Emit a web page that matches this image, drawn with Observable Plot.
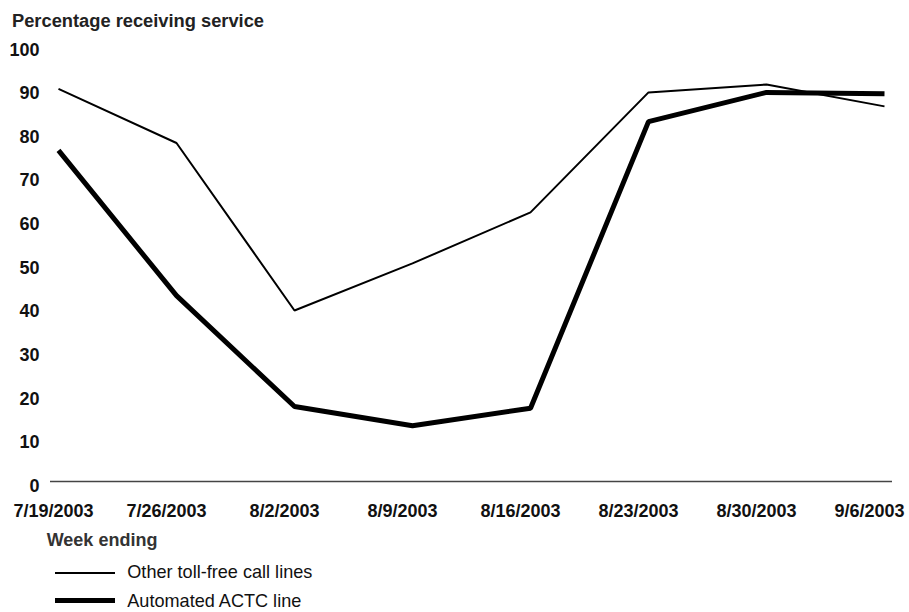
<!DOCTYPE html>
<html>
<head>
<meta charset="utf-8">
<script src="https://cdn.jsdelivr.net/npm/d3@7"></script>
<script src="https://cdn.jsdelivr.net/npm/@observablehq/plot@0.6"></script>
<style>
  html, body { margin: 0; padding: 0; background: #fff; }
  #wrap { position: relative; width: 909px; height: 612px; font-family: "Liberation Sans", Arial, Helvetica, sans-serif; overflow: hidden; }
  .abs { position: absolute; white-space: nowrap; line-height: 18px; }
  #title { left: 12px; top: 11.5px; font-size: 18.3px; font-weight: bold; color: #222; }
  #chart { position: absolute; left: 0; top: 36px; }
  #xlabel { left: 46.7px; top: 530.8px; font-size: 18px; font-weight: bold; color: #333; }
  .lg { left: 127.3px; font-size: 18.1px; color: #111; }
  .sw { position: absolute; left: 55px; width: 60px; background: #000; }
</style>
</head>
<body>
<div id="wrap">
  <div id="title" class="abs">Percentage receiving service</div>
  <div id="chart"></div>
  <div id="xlabel" class="abs">Week ending</div>
  <div class="sw" style="top:571.7px;height:2px"></div>
  <div class="abs lg" style="top:563px">Other toll-free call lines</div>
  <div class="sw" style="top:598.2px;height:5px"></div>
  <div class="abs lg" style="top:591.7px">Automated ACTC line</div>
</div>
<script>
const weeks = ["7/19/2003", "7/26/2003", "8/2/2003", "8/9/2003", "8/16/2003", "8/23/2003", "8/30/2003", "9/6/2003"];
const otherLines = [90, 77.6, 39.2, 50, 61.7, 89.2, 91, 86];
const actcLine = [75.9, 42.6, 17.2, 12.8, 16.8, 82.5, 89.2, 88.9];
const yTicks = [0, 10, 20, 30, 40, 50, 60, 70, 80, 90, 100];

const otherData = weeks.map((w, i) => ({week: w, value: otherLines[i]}));
const actcData = weeks.map((w, i) => ({week: w, value: actcLine[i]}));

const font = {fontSize: 18, fontWeight: "bold", fill: "#111"};

const chart = Plot.plot({
  width: 909,
  height: 490,
  marginLeft: 57,
  marginRight: 24,
  marginTop: 8.8,
  marginBottom: 45,
  style: {fontFamily: "'Liberation Sans', Arial, Helvetica, sans-serif", background: "#fff", color: "#111"},
  x: {type: "point", domain: weeks, padding: 0},
  y: {domain: [0, 100]},
  marks: [
    Plot.axisY(yTicks, {tickSize: 0, tickPadding: 18, dy: 4.5, label: null, ...font}),
    Plot.axisX([weeks[0]], {tickSize: 0, tickPadding: 22.3, dx: -5, label: null, ...font}),
    Plot.axisX(weeks.slice(1, 7), {tickSize: 0, tickPadding: 22.3, dx: -10, label: null, ...font}),
    Plot.axisX([weeks[7]], {tickSize: 0, tickPadding: 22.3, dx: -15, label: null, ...font}),
    Plot.ruleY([0], {stroke: "#444", strokeWidth: 1.5, insetLeft: -7, insetRight: -7}),
    Plot.lineY(actcData, {x: "week", y: "value", stroke: "#000", strokeWidth: 5, strokeLinejoin: "miter", strokeLinecap: "butt"}),
    Plot.lineY(otherData, {x: "week", y: "value", stroke: "#000", strokeWidth: 2, strokeLinejoin: "miter", strokeLinecap: "butt"})
  ]
});
document.getElementById("chart").appendChild(chart);
</script>
</body>
</html>
